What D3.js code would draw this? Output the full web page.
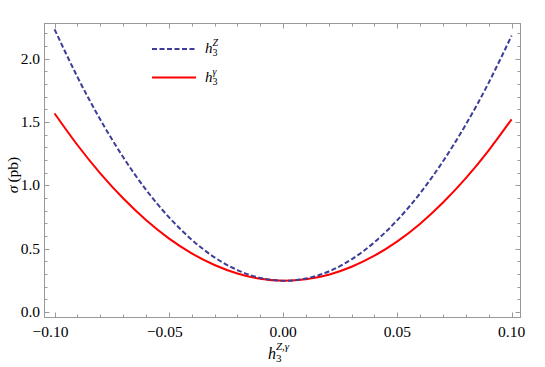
<!DOCTYPE html>
<html>
<head>
<meta charset="utf-8">
<script src="https://cdn.jsdelivr.net/npm/d3@7"></script>
<style>
  body { margin: 0; background: #fff; }
</style>
</head>
<body>
<div id="chart"></div>
<script>
// values, step 0.01
const hValues = [-0.10, -0.09, -0.08, -0.07, -0.06, -0.05, -0.04, -0.03, -0.02, -0.01, 0.00,
                 0.01, 0.02, 0.03, 0.04, 0.05, 0.06, 0.07, 0.08, 0.09, 0.10];
const sigmaZ = [2.23, 1.855, 1.519, 1.223, 0.966, 0.750, 0.572, 0.432, 0.332, 0.270, 0.248,
                0.265, 0.321, 0.417, 0.552, 0.726, 0.938, 1.190, 1.480, 1.810, 2.18];
const sigmaGamma = [1.567, 1.318, 1.095, 0.898, 0.727, 0.582, 0.464, 0.372, 0.305, 0.263, 0.248,
                    0.259, 0.295, 0.358, 0.445, 0.558, 0.698, 0.865, 1.057, 1.276, 1.520];
const xTicks = [-0.10, -0.05, 0.00, 0.05, 0.10];
const yTicks = [0.0, 0.5, 1.0, 1.5, 2.0];

const width = 545, height = 367;
const mLeft = 44.5, mRight = 520.5, mTop = 23.5, mBottom = 317.5;
const serif = "'Liberation Serif', 'Times New Roman', Tinos, 'DejaVu Serif', serif";

const svg = d3.select("#chart").append("svg")
  .attr("width", width)
  .attr("height", height)
  .style("font-family", serif);

const x = d3.scaleLinear().domain([-0.1044, 0.1039]).range([mLeft, mRight]);
const y = d3.scaleLinear().domain([-0.042, 2.276]).range([mBottom, mTop]);

// frame
svg.append("rect")
  .attr("x", mLeft).attr("y", mTop)
  .attr("width", mRight - mLeft).attr("height", mBottom - mTop)
  .attr("fill", "none")
  .attr("stroke", "#999")
  .attr("stroke-width", 1);

// ticks on all four sides, pointing in
const xMinor = d3.range(-10, 11).map(i => i / 100);
const yMinor = d3.range(0, 23).map(i => i / 10);
const tickColor = "#999";

xMinor.forEach(v => {
  const major = xTicks.some(t => Math.abs(t - v) < 1e-9);
  const len = major ? 5 : 3;
  const px = Math.round(x(v)) + 0.5;
  svg.append("line").attr("x1", px).attr("x2", px)
    .attr("y1", mBottom).attr("y2", mBottom - len).attr("stroke", tickColor);
  svg.append("line").attr("x1", px).attr("x2", px)
    .attr("y1", mTop).attr("y2", mTop + len).attr("stroke", tickColor);
});
yMinor.forEach(v => {
  const major = yTicks.some(t => Math.abs(t - v) < 1e-9);
  const len = major ? 5 : 3;
  const py = Math.round(y(v)) + 0.5;
  svg.append("line").attr("y1", py).attr("y2", py)
    .attr("x1", mLeft).attr("x2", mLeft + len).attr("stroke", tickColor);
  svg.append("line").attr("y1", py).attr("y2", py)
    .attr("x1", mRight).attr("x2", mRight - len).attr("stroke", tickColor);
});

// tick labels
svg.selectAll(".xl").data(xTicks).enter().append("text")
  .attr("x", d => x(d) + (d < 0 ? -4 : 0))
  .attr("y", 337)
  .attr("text-anchor", "middle")
  .attr("font-size", 15.5)
  .text(d => (d < 0 ? "\u2212" : "") + Math.abs(d).toFixed(2));

svg.selectAll(".yl").data(yTicks).enter().append("text")
  .attr("x", 40)
  .attr("y", d => y(d) + 5)
  .attr("text-anchor", "end")
  .attr("font-size", 15.5)
  .text(d => d.toFixed(1));

// curves
const line = d3.line()
  .x((d, i) => x(hValues[i]))
  .y(d => y(d))
  .curve(d3.curveNatural);

svg.append("path")
  .datum(sigmaGamma)
  .attr("d", line)
  .attr("fill", "none")
  .attr("stroke", "#ff0000")
  .attr("stroke-width", 2);

svg.append("path")
  .datum(sigmaZ)
  .attr("d", line)
  .attr("fill", "none")
  .attr("stroke", "#3d3d99")
  .attr("stroke-width", 2)
  .attr("stroke-dasharray", "5,2.5");

// legend
const legend = [
  { sup: "Z", color: "#3d3d99", dash: "5,2.5", y: 49 },
  { sup: "\u03b3", color: "#ff0000", dash: null, y: 77.5 }
];
legend.forEach(l => {
  svg.append("line")
    .attr("x1", 152).attr("x2", 196)
    .attr("y1", l.y).attr("y2", l.y)
    .attr("stroke", l.color)
    .attr("stroke-width", 2)
    .attr("stroke-dasharray", l.dash);
  const t = svg.append("text")
    .attr("x", 205).attr("y", l.y + 4)
    .attr("font-size", 15);
  t.append("tspan").attr("font-style", "italic").text("h");
  t.append("tspan").attr("font-size", 10).attr("dy", 3).text("3");
  t.append("tspan").attr("font-size", 10).attr("font-style", "italic")
    .attr("dx", -5).attr("dy", -10).text(l.sup);
});

// x axis title
const xt = svg.append("text")
  .attr("x", 268).attr("y", 359)
  .attr("font-size", 16);
xt.append("tspan").attr("font-style", "italic").text("h");
xt.append("tspan").attr("font-size", 11).attr("dy", 3).text("3");
xt.append("tspan").attr("font-size", 11).attr("font-style", "italic")
  .attr("dx", -5.5).attr("dy", -12).text("Z,\u03b3");

// y axis title
const yt = svg.append("text")
  .attr("transform", "translate(18,175) rotate(-90)")
  .attr("text-anchor", "middle")
  .attr("font-size", 15.5);
yt.append("tspan").attr("font-style", "italic").text("\u03c3");
yt.append("tspan").text("\u2009(pb)");
</script>
</body>
</html>
